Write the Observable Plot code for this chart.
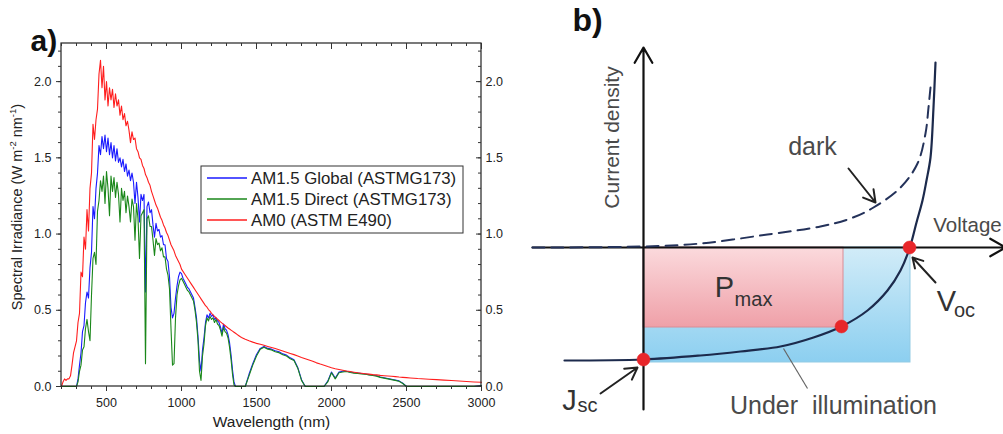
<!DOCTYPE html>
<html><head><meta charset="utf-8">
<script src="https://cdn.jsdelivr.net/npm/d3@7"></script>
<script src="https://cdn.jsdelivr.net/npm/@observablehq/plot@0.6"></script>
<style>
html,body{margin:0;padding:0;background:#fff;}
#wrap{position:relative;width:1003px;height:434px;overflow:hidden;}
#wrap > svg{position:absolute;top:0;}
</style></head><body><div id="wrap"></div>
<script>
// ---------------- Panel a: solar spectra ----------------
const wavelengths = [
200,210,220,230,240,250,260,270,280,290,
300,310,320,330,340,350,360,370,380,390,
400,410,420,430,440,450,460,470,480,490,
500,510,520,530,540,550,560,570,580,590,
600,610,620,630,640,650,660,670,680,690,
700,710,720,730,740,750,760,770,780,790,
800,810,820,830,840,850,860,870,880,890,
900,910,920,930,940,950,960,970,980,990,
1000,1010,1020,1030,1040,1050,1060,1070,1080,1090,
1100,1110,1120,1130,1140,1150,1160,1170,1180,1190,
1200,1210,1220,1230,1240,1250,1260,1270,1280,1290,
1300,1310,1320,1330,1340,1350,1360,1370,1380,1390,
1400,
1425,1450,1475,1500,1525,1550,1575,1600,1625,1650,
1675,1700,1725,1750,1775,1800,1825,1850,1875,1900,
1925,1950,1975,2000,2025,2050,2075,2100,2125,2150,
2175,2200,2225,2250,2275,2300,2325,2350,2375,2400,
2425,2450,2475,2500,2525,2550,2575,2600,
2650,2700,2750,2800,2850,2900,2950,3000];

const am15Global = [
0,0,0,0,0,0,0,0,0,0,
0,0.05,0.14,0.22,0.36,0.40,0.55,0.62,0.58,0.78,
0.88,1.18,1.10,1.30,1.40,1.58,1.52,1.64,1.56,1.65,
1.54,1.63,1.52,1.60,1.50,1.58,1.48,1.56,1.47,1.50,
1.44,1.49,1.41,1.46,1.38,1.42,1.35,1.40,1.34,1.20,
1.34,1.24,1.08,1.26,1.22,1.26,0.62,1.18,1.21,1.14,
1.16,1.06,0.98,1.07,1.02,1.03,0.98,0.99,0.93,0.93,
0.84,0.82,0.72,0.52,0.45,0.48,0.58,0.66,0.72,0.75,
0.74,0.71,0.69,0.67,0.65,0.64,0.62,0.60,0.58,0.52,
0.45,0.33,0.17,0.10,0.24,0.32,0.42,0.47,0.45,0.48,
0.46,0.47,0.44,0.45,0.43,0.42,0.39,0.35,0.41,0.38,
0.37,0.34,0.29,0.21,0.11,0.03,0,0,0,0,
0,
0,0.08,0.15,0.21,0.25,0.262,0.25,0.245,0.235,0.228,
0.214,0.206,0.188,0.176,0.125,0.045,0,0,0,0,
0,0,0.035,0.095,0.055,0.095,0.10,0.10,0.095,0.09,
0.088,0.085,0.082,0.078,0.075,0.07,0.062,0.057,0.052,0.047,
0.042,0.037,0.022,0,0,0,0,0,
0,0,0,0,0,0,0,0.006];

const am15Direct = [
0,0,0,0,0,0,0,0,0,0,
0,0.03,0.10,0.14,0.24,0.26,0.38,0.44,0.36,0.30,
0.60,0.84,0.88,0.80,1.15,1.22,1.35,1.28,1.38,1.20,
1.41,1.30,1.12,1.38,1.28,1.37,1.24,1.34,1.26,1.08,
1.30,1.22,1.28,1.14,1.25,1.18,1.08,1.23,1.18,0.96,
1.20,1.10,0.84,1.12,1.14,1.16,0.15,1.10,1.12,1.05,
1.05,0.96,0.86,0.97,0.93,0.94,0.89,0.91,0.85,0.85,
0.77,0.73,0.64,0.38,0.14,0.15,0.45,0.60,0.66,0.70,
0.71,0.69,0.67,0.65,0.63,0.62,0.60,0.58,0.56,0.50,
0.42,0.30,0.10,0.04,0.20,0.28,0.40,0.45,0.43,0.46,
0.44,0.45,0.42,0.44,0.41,0.40,0.37,0.33,0.39,0.36,
0.35,0.32,0.26,0.18,0.08,0.01,0,0,0,0,
0,
0,0.07,0.14,0.20,0.245,0.258,0.245,0.24,0.228,0.222,
0.208,0.20,0.182,0.17,0.12,0.04,0,0,0,0,
0,0,0.03,0.09,0.05,0.09,0.095,0.098,0.092,0.088,
0.086,0.082,0.08,0.076,0.072,0.068,0.06,0.055,0.05,0.045,
0.04,0.035,0.02,0,0,0,0,0,
0,0,0,0,0,0,0,0.005];

const am0 = [
0.00,0.03,0.05,0.04,0.05,0.05,0.07,0.14,0.22,0.26,
0.30,0.42,0.48,0.75,0.72,0.98,0.90,1.16,1.02,1.30,
1.40,1.72,1.62,1.75,1.82,2.05,2.14,1.96,2.10,1.88,
2.00,1.84,1.96,1.88,1.95,1.83,1.92,1.84,1.88,1.78,
1.84,1.75,1.79,1.71,1.74,1.68,1.60,1.67,1.62,1.63,
1.56,1.54,1.50,1.49,1.45,1.43,1.39,1.37,1.34,1.32,
1.28,1.25,1.22,1.19,1.17,1.14,1.11,1.09,1.06,1.04,
1.01,0.99,0.96,0.93,0.91,0.89,0.86,0.84,0.82,0.80,
0.77,0.755,0.74,0.725,0.71,0.695,0.68,0.665,0.65,0.635,
0.62,0.605,0.59,0.575,0.56,0.545,0.53,0.52,0.505,0.495,
0.48,0.47,0.46,0.451,0.442,0.433,0.424,0.416,0.408,0.40,
0.392,0.384,0.377,0.37,0.363,0.356,0.349,0.342,0.335,0.328,
0.322,
0.31,0.30,0.291,0.283,0.277,0.27,0.263,0.256,0.249,0.241,
0.233,0.225,0.217,0.209,0.20,0.19,0.182,0.174,0.166,0.155,
0.147,0.14,0.131,0.123,0.117,0.112,0.107,0.102,0.098,0.094,
0.09,0.087,0.084,0.081,0.078,0.076,0.073,0.071,0.069,0.067,
0.065,0.062,0.06,0.058,0.056,0.054,0.052,0.051,
0.048,0.045,0.042,0.039,0.036,0.033,0.030,0.028];

const seriesNames = ["AM1.5 Global (ASTMG173)", "AM1.5 Direct (ASTMG173)", "AM0 (ASTM E490)"];
const seriesColors = ["#1a1aff", "#1a871a", "#ff1e1e"];
const seriesValues = [am15Global, am15Direct, am0];

const xMajorTicks = [500, 1000, 1500, 2000, 2500, 3000];
const xMinorTicks = [200,300,400,500,600,700,800,900,1000,1100,1200,1300,1400,1500,1600,1700,1800,1900,2000,2100,2200,2300,2400,2500,2600,2700,2800,2900,3000];
const yMajorTicks = [0, 0.5, 1.0, 1.5, 2.0];
const yMinorTicks = [0,0.1,0.2,0.3,0.4,0.5,0.6,0.7,0.8,0.9,1.0,1.1,1.2,1.3,1.4,1.5,1.6,1.7,1.8,1.9,2.0,2.1,2.2];

// ---------------- Panel b: J–V schematic ----------------
const illumVoltage = [-0.79,0,0.57,0.97,1.37,1.70,1.98,2.24,2.44,2.57,2.66,2.73,2.79,2.83,2.87,2.90,2.92];
const illumCurrent = [-1.13,-1.12,-1.08,-1.04,-0.99,-0.90,-0.79,-0.63,-0.43,-0.23,-0.01,0.25,0.47,0.67,0.90,1.40,1.85];
const darkVoltage = [-1.11,0,0.57,1.24,1.77,2.07,2.30,2.57,2.74,2.82,2.85,2.87];
const darkCurrent = [0,0.01,0.04,0.13,0.21,0.29,0.40,0.60,0.84,1.14,1.40,1.60];
const pointNames = ["Jsc", "Pmax", "Voc"];
const pointVoltage = [0, 1.98, 2.66];
const pointCurrent = [-1.12, -0.79, 0];

const FONT = "'Liberation Sans', Arial, Helvetica, sans-serif";
const wrap = document.getElementById("wrap");

// ---- Panel a
const frameH = 343, frameW = 420;
const pxY = 2.25 / frameH, pxX = 2800 / frameW;
const specRows = seriesNames.flatMap((name, k) =>
  wavelengths.map((w, i) => ({w, v: seriesValues[k][i], name})));
const fmt = d3.format(".1f");
const frameBox = [{w1: 200, w2: 3000, v1: 0, v2: 2.25}];

const plotA = Plot.plot({
  width: 503, height: 434,
  marginLeft: 61, marginRight: 22, marginTop: 43, marginBottom: 48,
  style: {fontFamily: FONT, fontSize: "12.5px", background: "transparent", overflow: "visible", color: "#222"},
  x: {domain: [200, 3000], axis: null},
  y: {domain: [0, 2.25], axis: null},
  color: {domain: seriesNames, range: seriesColors},
  marks: [
    Plot.line(specRows, {x: "w", y: "v", z: "name", stroke: "name", strokeWidth: 1.1}),
    Plot.rect(frameBox, {x1: "w1", x2: "w2", y1: "v1", y2: "v2", fill: "none", stroke: "#222", strokeWidth: 1.2}),
    Plot.ruleX(xMinorTicks, {x: d => d, y1: () => 0, y2: () => -3 * pxY, stroke: "#333"}),
    Plot.ruleX(xMajorTicks, {x: d => d, y1: () => 0, y2: () => -5 * pxY, stroke: "#333"}),
    Plot.ruleX(xMinorTicks, {x: d => d, y1: () => 2.25, y2: () => 2.25 - 3 * pxY, stroke: "#333"}),
    Plot.ruleX(xMajorTicks, {x: d => d, y1: () => 2.25, y2: () => 2.25 - 6 * pxY, stroke: "#333"}),
    Plot.ruleY(yMinorTicks, {y: d => d, x1: () => 200, x2: () => 200 - 3 * pxX, stroke: "#333"}),
    Plot.ruleY(yMajorTicks, {y: d => d, x1: () => 200, x2: () => 200 - 5 * pxX, stroke: "#333"}),
    Plot.ruleY(yMinorTicks, {y: d => d, x1: () => 3000, x2: () => 3000 - 3 * pxX, stroke: "#333"}),
    Plot.ruleY(yMajorTicks, {y: d => d, x1: () => 3000, x2: () => 3000 - 5 * pxX, stroke: "#333"}),
    Plot.text(xMajorTicks, {x: d => d, y: () => 0, dy: 16, text: d => String(d), fill: "#222"}),
    Plot.text(yMajorTicks, {x: () => 200, y: d => d, dx: -10, textAnchor: "end", text: d => fmt(d), fill: "#222"}),
    Plot.text(yMajorTicks, {x: () => 3000, y: d => d, dx: 4, textAnchor: "start", text: d => fmt(d), fill: "#222"}),
    Plot.text(["Wavelength (nm)"], {frameAnchor: "bottom", dy: 40, fontSize: 15.5, fill: "#222"}),
    Plot.text(["a)"], {frameAnchor: "top-left", dx: -31, dy: -14, fontSize: 30, fontWeight: "bold", fill: "#111"})
  ]
});
plotA.style.left = "0px";
wrap.appendChild(plotA);

// y label with superscripts
const yl = d3.select(plotA).append("text")
  .attr("transform", "translate(22,207) rotate(-90)")
  .attr("text-anchor", "middle")
  .attr("font-family", FONT).attr("font-size", 14.5).attr("fill", "#222");
yl.append("tspan").text("Spectral Irradiance (W m");
yl.append("tspan").attr("font-size", 9.5).attr("dy", -6).text("-2");
yl.append("tspan").attr("dy", 6).text(" nm");
yl.append("tspan").attr("font-size", 9.5).attr("dy", -6).text("-1");
yl.append("tspan").attr("dy", 6).text(")");

// legend
const lg = d3.select(plotA).append("g").attr("font-family", FONT).attr("font-size", 16.8).attr("text-anchor", "start");
lg.append("rect").attr("x", 201).attr("y", 166).attr("width", 262).attr("height", 67)
  .attr("fill", "#fff").attr("stroke", "#333").attr("stroke-width", 1);
seriesNames.forEach((name, i) => {
  const y = 178 + 21 * i;
  lg.append("line").attr("x1", 207).attr("x2", 247).attr("y1", y).attr("y2", y)
    .attr("stroke", seriesColors[i]).attr("stroke-width", 1.6);
  lg.append("text").attr("x", 251).attr("y", y).attr("dy", "0.35em")
    .attr("text-anchor", "start").attr("fill", "#222").text(name);
});

// ---- Panel b
const illumRows = illumVoltage.map((v, i) => ({v, j: illumCurrent[i]}));
const darkRows = darkVoltage.map((v, i) => ({v, j: darkCurrent[i]}));
const pointRows = pointNames.map((n, i) => ({n, v: pointVoltage[i], j: pointCurrent[i]}));
const cellRect = [{v1: 0, v2: 2.67, j1: -1.15, j2: 0}];
const pmaxRect = [{v1: 0, v2: 2.00, j1: -0.80, j2: 0}];
const axisArrows = [{x1: 0, y1: -1.62, x2: 0, y2: 2.00}, {x1: -1.11, y1: 0, x2: 3.62, y2: 0}];
const noteArrows = [
  {x1: 2.05, y1: 0.79, x2: 2.32, y2: 0.45},
  {x1: 2.92, y1: -0.35, x2: 2.69, y2: -0.10},
  {x1: -0.43, y1: -1.46, x2: -0.06, y2: -1.20}
];
const pointer = [{x1: 1.64, y1: -1.41, x2: 1.40, y2: -1.01}];
const labelsB = [
  {t: "dark", v: 1.69, j: 1.01},
  {t: "Under\u00a0 illumination", v: 1.90, j: -1.58}
];
const bigSymbols = [{t: "P", v: 0.81, j: -0.40}, {t: "V", v: 3.03, j: -0.54}, {t: "J", v: -0.74, j: -1.53}];
const subSymbols = [{t: "max", v: 1.10, j: -0.52}, {t: "oc", v: 3.21, j: -0.63}, {t: "sc", v: -0.56, j: -1.58}];

const plotB = Plot.plot({
  width: 500, height: 434, marginLeft: 0, marginRight: 0, marginTop: 0, marginBottom: 0,
  style: {fontFamily: FONT, background: "transparent", overflow: "visible"},
  x: {domain: [-1.4, 3.6], axis: null},
  y: {domain: [-1.87, 2.47], axis: null},
  marks: [
    Plot.rect(cellRect, {x1: "v1", x2: "v2", y1: "j1", y2: "j2", fill: "url(#gradBlue)", stroke: "#93cbe4", strokeWidth: 1}),
    Plot.rect(pmaxRect, {x1: "v1", x2: "v2", y1: "j1", y2: "j2", fill: "url(#gradPink)", stroke: "#d98c95", strokeWidth: 1}),
    Plot.arrow(axisArrows, {x1: "x1", y1: "y1", x2: "x2", y2: "y2", stroke: "#111", strokeWidth: 2.2, headLength: 12}),
    Plot.line(darkRows, {x: "v", y: "j", curve: "catmull-rom", stroke: "#24325a", strokeWidth: 2, strokeDasharray: "12,7"}),
    Plot.line(illumRows, {x: "v", y: "j", curve: "catmull-rom", stroke: "#1c2a4c", strokeWidth: 2.2}),
    Plot.link(pointer, {x1: "x1", y1: "y1", x2: "x2", y2: "y2", stroke: "#666", strokeWidth: 1.2}),
    Plot.arrow(noteArrows, {x1: "x1", y1: "y1", x2: "x2", y2: "y2", stroke: "#222", strokeWidth: 2, headLength: 10}),
    Plot.dot(pointRows, {x: "v", y: "j", r: 6.5, fill: "#e8262a", stroke: "#e8262a", strokeWidth: 0.5}),
    Plot.text(["Current density"], {x: () => -0.31, y: () => 1.10, rotate: -90, fontSize: 21, fill: "#4a4a4a"}),
    Plot.text(["Voltage"], {x: () => 3.24, y: () => 0.22, fontSize: 20.5, fill: "#4a4a4a"}),
    Plot.text(labelsB, {x: "v", y: "j", text: "t", fontSize: 25, fill: "#4a4a4a"}),
    Plot.text(bigSymbols, {x: "v", y: "j", text: "t", fontSize: 29, fill: "#333"}),
    Plot.text(subSymbols, {x: "v", y: "j", text: "t", fontSize: 20, fill: "#333"}),
    Plot.text(["b)"], {x: () => -0.56, y: () => 2.27, fontSize: 32, fontWeight: "bold", fill: "#111"})
  ]
});
const defs = d3.select(plotB).insert("defs", ":first-child");
const gp = defs.append("linearGradient").attr("id", "gradPink").attr("x1", 0).attr("y1", 0).attr("x2", 0).attr("y2", 1);
gp.append("stop").attr("offset", "0%").attr("stop-color", "#fbdadd");
gp.append("stop").attr("offset", "100%").attr("stop-color", "#efa0a8");
const gb = defs.append("linearGradient").attr("id", "gradBlue").attr("x1", 0).attr("y1", 0).attr("x2", 0).attr("y2", 1);
gb.append("stop").attr("offset", "0%").attr("stop-color", "#d2ecf8");
gb.append("stop").attr("offset", "100%").attr("stop-color", "#8ccff0");
plotB.style.left = "503px";
wrap.appendChild(plotB);
</script>
</body></html>
